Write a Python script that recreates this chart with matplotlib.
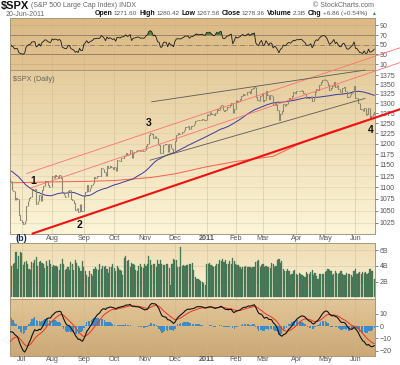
import matplotlib

matplotlib.use("Agg")
import matplotlib.pyplot as plt
import numpy as np
import pandas as pd

W, H = 400, 365

# ---- data -----------------------------------------------------------------
# warm-up closes (Apr 1 .. Jun 18 2010), used only for the indicators
prior_closes = [
    1178.1, 1187.4, 1189.4, 1182.5, 1186.4, 1194.4, 1196.5, 1197.3, 1210.65, 1211.7,
    1192.1, 1197.5, 1207.2, 1205.9, 1208.7, 1217.3, 1212.05, 1183.7, 1191.4, 1206.8, 1186.7,
    1202.3, 1173.6, 1165.9, 1128.2, 1110.9, 1159.7, 1155.8, 1171.7, 1157.4, 1135.7,
    1136.9, 1120.8, 1115.1, 1071.6, 1087.7, 1074.0, 1074.0, 1067.95, 1103.1, 1089.4,
    1070.7, 1098.4, 1102.8, 1064.9, 1050.5, 1062.0, 1055.7, 1086.8, 1091.6, 1089.6,
    1115.2, 1114.6, 1116.0, 1117.5,
]
closes = [
    # Jun 2010
    1113.2, 1095.3, 1092.0, 1073.7, 1076.8, 1074.6, 1041.2, 1030.7,
    # Jul
    1027.4, 1022.6, 1028.1, 1060.3, 1070.3, 1077.96, 1078.75, 1095.34, 1095.17, 1096.48,
    1064.88, 1071.25, 1083.48, 1069.59, 1093.67, 1102.66, 1115.01, 1113.84, 1106.13, 1101.53, 1101.60,
    # Aug
    1125.86, 1120.46, 1127.24, 1125.81, 1121.64, 1127.79, 1121.06, 1089.47, 1083.61, 1079.25,
    1079.38, 1092.54, 1094.16, 1075.63, 1071.69, 1067.36, 1051.87, 1055.33, 1047.22, 1064.59,
    1048.92, 1049.33,
    # Sep
    1080.29, 1090.10, 1104.51, 1091.84, 1098.87, 1104.18, 1109.55, 1121.90, 1121.10, 1125.07,
    1124.66, 1125.59, 1142.71, 1139.78, 1134.28, 1124.83, 1148.67, 1142.16, 1147.70, 1144.73, 1141.20,
    # Oct
    1146.24, 1137.03, 1160.75, 1159.97, 1158.06, 1165.15, 1165.32, 1169.77, 1178.10, 1173.81,
    1176.19, 1184.71, 1165.90, 1178.17, 1180.26, 1183.08, 1185.62, 1185.64, 1182.45, 1183.78, 1183.26,
    # Nov
    1184.38, 1193.57, 1197.96, 1221.06, 1225.85, 1223.25, 1213.40, 1218.71, 1213.54, 1199.21,
    1197.75, 1178.34, 1178.59, 1196.69, 1199.73, 1197.84, 1180.73, 1198.35, 1189.40, 1187.76, 1180.55,
    # Dec
    1206.07, 1221.53, 1224.71, 1223.12, 1223.75, 1228.28, 1233.00, 1240.40, 1240.46, 1241.59,
    1235.23, 1242.87, 1243.91, 1247.08, 1254.60, 1258.84, 1256.77, 1257.54, 1258.51, 1259.78,
    1257.88, 1257.64,
    # Jan 2011
    1271.87, 1270.20, 1276.56, 1273.85, 1271.50, 1269.75, 1274.48, 1285.96, 1283.76, 1293.24,
    1295.02, 1281.92, 1280.26, 1283.35, 1290.84, 1291.18, 1296.63, 1299.54, 1276.34, 1286.12,
    # Feb
    1307.59, 1304.03, 1307.10, 1310.87, 1319.05, 1324.57, 1320.88, 1321.87, 1329.15, 1332.32,
    1328.01, 1336.32, 1340.43, 1343.01, 1315.44, 1307.40, 1306.10, 1319.88, 1327.22,
    # Mar
    1306.33, 1308.44, 1330.97, 1321.15, 1310.13, 1321.82, 1320.02, 1295.11, 1304.28, 1296.39,
    1281.87, 1256.88, 1273.72, 1279.21, 1298.38, 1293.77, 1297.54, 1309.66, 1313.80, 1310.19,
    1319.44, 1328.26, 1325.83,
    # Apr
    1332.41, 1332.87, 1332.63, 1335.54, 1333.51, 1328.17, 1324.46, 1314.16, 1314.41, 1314.52,
    1319.68, 1305.14, 1312.62, 1330.36, 1337.38, 1335.25, 1347.24, 1355.66, 1360.48, 1363.61,
    # May
    1361.22, 1356.62, 1347.32, 1335.10, 1340.20, 1346.29, 1357.16, 1342.08, 1348.65, 1337.77,
    1329.47, 1328.98, 1340.68, 1343.60, 1333.27, 1317.37, 1316.28, 1320.47, 1325.69, 1331.10, 1345.20,
    # Jun
    1314.55, 1312.94, 1300.16, 1286.17, 1284.94, 1279.56, 1289.00, 1270.98, 1271.83, 1287.87,
    1265.42, 1267.64, 1271.50, 1278.36,
]
# volume, billions
volume = [
    3.7, 4.0, 4.2, 4.4, 5.8, 3.6, 5.2, 5.7,
    5.6, 4.1, 4.5, 4.6, 4.3, 3.6, 3.5, 4.5, 4.4, 4.8, 5.1, 4.0, 4.5, 4.6, 4.4, 4.3, 3.7, 4.6, 4.0, 4.7, 4.2,
    3.8, 4.1, 4.0, 4.0, 3.9, 3.5, 4.3, 4.9, 4.3, 3.5, 3.6, 3.9, 3.5, 4.5, 4.2, 3.5, 4.7, 4.4, 4.0, 3.7, 3.4, 4.6,
    3.8, 3.3, 2.9, 2.6, 3.3, 3.0, 2.7, 3.6, 3.8, 3.6, 3.5, 4.2, 3.6, 4.0, 3.9, 4.0, 3.6, 3.1, 3.9, 3.8, 4.2,
    3.7, 3.3, 4.0, 3.7, 3.5, 3.4, 2.9, 5.0, 5.3, 4.6, 4.8, 3.8, 4.4, 4.3, 4.1, 3.5, 3.4, 4.0, 4.2, 3.8, 3.7,
    4.3, 4.0, 4.3, 5.2, 4.8, 4.1, 4.2, 4.2, 3.8, 4.7, 4.3, 4.8, 4.3, 4.1, 4.1, 4.2, 4.3, 3.7, 1.6, 4.2, 4.9,
    4.8, 4.7, 3.9, 3.9, 6.4, 4.0, 4.1, 4.0, 4.1, 4.1, 4.2, 4.3, 4.4, 3.5, 2.6, 2.4, 2.3, 2.2, 2.1, 2.0, 1.8, 1.6,
    4.2, 4.3, 4.4, 4.1, 4.0, 3.9, 4.0, 4.3, 4.2, 4.7, 4.6, 4.9, 4.5, 4.8, 4.2, 4.3, 4.6, 4.3, 5.0, 4.6,
    4.3, 4.1, 4.1, 3.8, 3.6, 3.8, 3.8, 4.0, 3.8, 3.8, 3.9, 3.7, 3.8, 3.9, 4.5, 4.6, 4.7, 3.9, 4.1,
    4.3, 3.9, 4.0, 3.9, 3.9, 3.7, 4.4, 4.3, 3.8, 4.0, 4.7, 4.9, 4.4, 4.6, 3.6, 3.3, 3.4, 3.6, 3.4, 2.9, 3.0, 3.3, 3.5,
    3.0, 2.9, 3.1, 3.0, 2.9, 2.7, 2.6, 3.2, 3.0, 3.0, 3.2, 3.5, 2.9, 3.1, 2.7, 2.3, 3.0, 3.0, 3.0, 3.0,
    3.2, 3.4, 3.6, 3.5, 3.3, 2.9, 3.0, 3.3, 3.1, 3.0, 3.1, 3.3, 3.0, 2.8, 2.9, 3.1, 3.0, 3.0, 2.8, 2.6, 3.3,
    3.6, 3.0, 3.1, 3.2, 3.0, 3.2, 3.1, 3.2, 3.0, 3.1, 3.6, 3.4, 3.4, 2.3,
]
holidays = ["2010-04-02", "2010-05-31", "2010-07-05", "2010-09-06", "2010-11-25",
            "2010-12-24", "2011-01-17", "2011-02-21", "2011-04-22", "2011-05-30"]
# 200-day MA (red overlay), sampled off the chart
ma200_dates = ["2010-06-21", "2010-08-02", "2010-09-01", "2010-10-01", "2010-11-08", "2010-12-01",
               "2011-01-03", "2011-02-01", "2011-03-10", "2011-04-01", "2011-05-02", "2011-06-01",
               "2011-06-20"]
ma200_vals = [1110, 1112, 1113, 1115, 1122, 1130, 1146, 1158, 1170, 1196, 1224, 1248, 1263]

# hand-drawn annotations: (date index, price) end points
thick_line = [(15.6, 1003.6), (269.6, 1284.5)]
chan_upper = [(11.4, 1130.8), (269.6, 1451.4)]
chan_mid = [(13.7, 1098.2), (269.6, 1409.3)]
black_upper = [(97.9, 1303.9), (245.6, 1388.7)]
black_lower = [(96.8, 1161.0), (245.6, 1312.7)]
wave_labels = [("1", 16, 1114), ("2", 48.3, 1020), ("3", 95.6, 1250), ("4", 249.5, 1232)]

header_items = [("Open", "1271.60"), ("High", "1280.42"), ("Low", "1267.56"),
                ("Close", "1278.36"), ("Volume", "2.3B"), ("Chg", "+6.86 (+0.54%)")]

# ---- derived ----------------------------------------------------------------
all_dates = pd.bdate_range("2010-04-01", "2011-06-20")
all_dates = all_dates[~all_dates.isin(pd.to_datetime(holidays))]
c_all = np.array(prior_closes + closes, dtype=float)
assert len(all_dates) == len(c_all), (len(all_dates), len(c_all))
assert len(volume) == len(closes)
n0 = len(prior_closes)
dates = all_dates[n0:]
N = len(closes)
x = np.arange(N)

s = pd.Series(c_all)
ma50 = s.rolling(50).mean().to_numpy()[n0:]
ema12 = s.ewm(span=12, adjust=False).mean()
ema26 = s.ewm(span=26, adjust=False).mean()
macd_all = ema12 - ema26
sig_all = macd_all.ewm(span=9, adjust=False).mean()
macd = macd_all.to_numpy()[n0:]
sig = sig_all.to_numpy()[n0:]
hist = macd - sig


def rsi_wilder(c, n=14):
    d = np.diff(c)
    up = np.clip(d, 0, None)
    dn = np.clip(-d, 0, None)
    ag, al = up[:n].mean(), dn[:n].mean()
    out = np.full(len(c), np.nan)
    out[n] = 100 - 100 / (1 + ag / al)
    for k in range(n + 1, len(c)):
        ag = (ag * (n - 1) + up[k - 1]) / n
        al = (al * (n - 1) + dn[k - 1]) / n
        out[k] = 100 - 100 / (1 + ag / al)
    return out


rsi = rsi_wilder(c_all)[n0:]
cl = np.array(closes)
prev = c_all[n0 - 1:-1]

month_starts = [i for i in range(1, N) if dates[i].month != dates[i - 1].month]
month_names = [("2011" if dates[i].month == 1 else dates[i].strftime("%b")) for i in month_starts]

ma200_x = dates.get_indexer(pd.to_datetime(ma200_dates))

# ---- layout -----------------------------------------------------------------
plt.rcParams["font.family"] = ["Liberation Sans", "DejaVu Sans"]
fig = plt.figure(figsize=(W / 100, H / 100), dpi=100)
fig.patch.set_facecolor("white")


def rect(y0, y1, x0=9.5, x1=375.0):
    return [x0 / W, 1 - y1 / H, (x1 - x0) / W, (y1 - y0) / H]


def panel(r, top, bot):
    bg = fig.add_axes(r, zorder=0)
    g = np.linspace(0, 1, 64)[:, None]
    cols = np.array(top)[None, None, :] * (1 - g[..., None]) + np.array(bot)[None, None, :] * g[..., None]
    bg.imshow(cols / 255.0, aspect="auto", extent=[0, 1, 0, 1])
    bg.axis("off")
    ax = fig.add_axes(r, zorder=1)
    ax.set_facecolor("none")
    ax.set_xlim(-0.5, N - 0.5)
    for sp in ax.spines.values():
        sp.set_color("#a8977a")
        sp.set_linewidth(0.7)
    ax.yaxis.tick_right()
    ax.tick_params(axis="y", labelsize=5, colors="#555555", length=2, width=0.5, pad=1.5)
    ax.tick_params(axis="x", length=0, labelbottom=False)
    for m in month_starts:
        ax.axvline(m, color="#c9b48f", lw=0.5, alpha=0.6, zorder=0)
    return ax


ax_rsi = panel(rect(18, 70), (219, 186, 134), (226, 196, 146))
ax_px = panel(rect(70, 234.3), (229, 204, 156), (252, 245, 216))
ax_vol = panel(rect(243.3, 299), (238, 220, 178), (251, 244, 218))
ax_macd = panel(rect(299, 356), (226, 198, 152), (204, 168, 118))

# RSI
ax_rsi.set_ylim(-2, 105)
ax_rsi.set_yticks([10, 30, 50, 70, 90])
for lv in (10, 90):
    ax_rsi.axhline(lv, color="#c9ad80", lw=0.5)
ax_rsi.axhline(70, color="#8a7a64", lw=0.6)
ax_rsi.axhline(30, color="#8a7a64", lw=0.6)
ax_rsi.axhline(50, color="#8a7a64", lw=0.6, ls="-.")
ax_rsi.fill_between(x, 70, rsi, where=rsi > 70, color="#4f8a45", interpolate=True, lw=0)
ax_rsi.plot(x, rsi, color="#1a1a1a", lw=0.6)

# price
ax_px.set_yscale("log")
ax_px.set_ylim(1002, 1389)
pticks = list(range(1025, 1400, 25))
ax_px.set_yticks(pticks)
ax_px.set_yticklabels([str(t) for t in pticks])
ax_px.minorticks_off()
for t in pticks:
    ax_px.axhline(t, color="#d9c6a0", lw=0.4, alpha=0.7, zorder=0)
ax_px.plot(ma200_x, ma200_vals, color="#ff5a4a", lw=0.7, zorder=2)
ax_px.plot(x, ma50, color="#3a3aa0", lw=0.7, zorder=2)
ax_px.vlines(x, np.minimum(prev, cl), np.maximum(prev, cl), color="#8c8874", lw=0.8, zorder=3)
ax_px.hlines(cl, x, x + 0.5, color="#4a4838", lw=0.5, zorder=3)
ax_px.text(0.01, 0.965, "$SPX (Daily)", transform=ax_px.transAxes, fontsize=5.2,
           color="#666666", va="top", ha="left")

for pts, col, lw in [(chan_upper, "#ff7070", 0.6), (chan_mid, "#ff7070", 0.6),
                     (black_upper, "#5a5a5a", 0.6), (black_lower, "#5a5a5a", 0.6),
                     (thick_line, "#ee1111", 1.5)]:
    (x0, y0), (x1, y1) = pts
    ax_px.plot([x0, x1], [y0, y1], color=col, lw=lw, clip_on=False, zorder=5)
for lab, lx, ly in wave_labels:
    ax_px.text(lx, ly, lab, fontsize=7.5, fontweight="bold", color="#111111",
               ha="center", va="center", zorder=6)

# volume
ax_vol.set_ylim(-0.19, 6.86)
ax_vol.set_yticks([2, 4, 6])
ax_vol.set_yticklabels(["2B", "4B", "6B"])
for t in (2, 4, 6):
    ax_vol.axhline(t, color="#d9c6a0", lw=0.4, zorder=0)
ax_vol.bar(x, volume, width=0.8, color="#4c7d5c", edgecolor="#3f6b4c", lw=0.2, zorder=2)

# MACD
ax_macd.set_ylim(-24.1, 21.7)
ax_macd.set_yticks([-20, -10, 0, 10])
ax_macd.bar(x, hist, width=0.85, color="#3f8cc4", lw=0, zorder=2)
ax_macd.plot(x, sig, color="#ee3322", lw=0.7, zorder=3)
ax_macd.plot(x, macd, color="#111111", lw=0.8, zorder=4)

# date labels
for yrow, first in ((238.6, False), (359.8, True)):
    for m, name in zip(month_starts, month_names):
        if not first and name == "Jul":
            continue
        xf = ax_macd.transData.transform((m, 0))[0]
        fig.text(xf / (fig.dpi * fig.get_figwidth()), 1 - yrow / H, name, fontsize=5.2,
                 color="#555555", ha="center", va="center",
                 fontweight="bold" if name == "2011" else "normal")
fig.text(21 / W, 1 - 238.5 / H, "(b)", fontsize=6.5, fontweight="bold", color="#1a2a4a",
         ha="center", va="center")


# header
def ptext(px, py, s, **kw):
    return fig.text(px / W, 1 - py / H, s, va="center", **kw)


ptext(1, 5.5, "$SPX", fontsize=8, fontweight="bold", color="#111111")
ptext(31, 5.8, "(S&P 500 Large Cap Index) INDX", fontsize=5, color="#666666")
ptext(374, 5.5, "\u00a9 StockCharts.com", fontsize=5, color="#666666", ha="right")
ptext(6, 14, "20-Jun-2011", fontsize=5, color="#666666")

# data line, laid out right to left so it ends just before the arrow
renderer = fig.canvas.get_renderer()
cur = 367.0
for lab, val in reversed(header_items):
    t = ptext(cur, 13.8, val, fontsize=4.6, color="#555555", ha="right")
    cur = t.get_window_extent(renderer).x0 - 1.0
    t = ptext(cur, 13.8, lab, fontsize=5.0, fontweight="bold", color="#111111", ha="right")
    cur = t.get_window_extent(renderer).x0 - 2.2
ptext(371, 13.8, "\u25b2", fontsize=3.5, color="#2a8a2a")

fig.savefig("out.png", dpi=100)
